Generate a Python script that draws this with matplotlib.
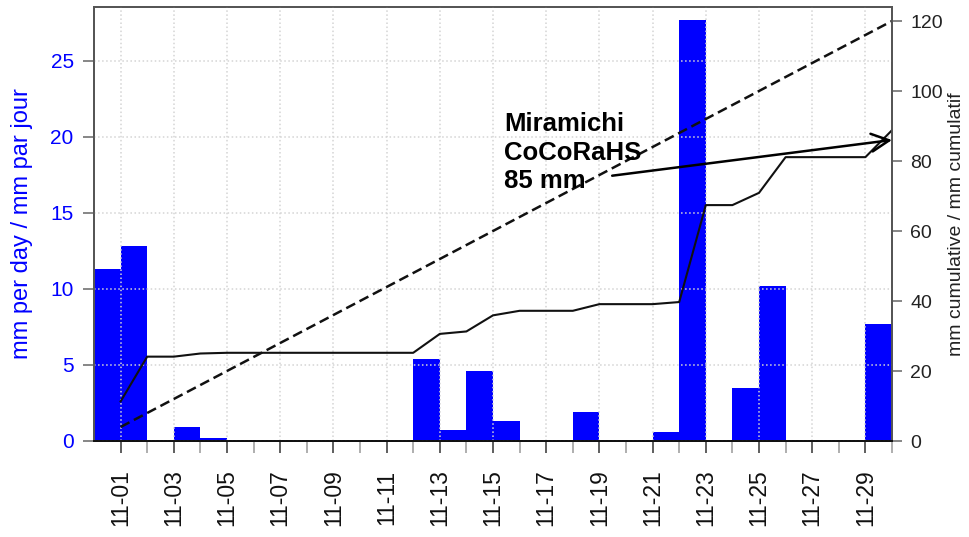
import numpy as np
import matplotlib.pyplot as plt

plt.rcParams['font.family'] = ['Liberation Sans', 'DejaVu Sans']

# daily precipitation, 1-30 November (mm)
days = np.arange(1, 31)
daily = [11.3, 12.8, 0.0, 0.9, 0.2, 0.0, 0.0, 0.0, 0.0, 0.0,
         0.0, 0.0, 5.4, 0.7, 4.6, 1.3, 0.0, 0.0, 1.9, 0.0,
         0.0, 0.6, 27.7, 0.0, 3.5, 10.2, 0.0, 0.0, 0.0, 7.7]
cumul = np.cumsum(daily)

# normal accumulation (dashed line), end points
normal_days = [1, 30]
normal_cum = [4, 120]

tick_days = list(range(1, 30, 2))
tick_labels = ['11-%02d' % d for d in tick_days]
minor_days = list(range(2, 31, 2))
left_ticks = [0, 5, 10, 15, 20, 25]
right_ticks = [0, 20, 40, 60, 80, 100, 120]

fig = plt.figure(figsize=(9.69, 5.37), dpi=100)
ax = fig.add_axes([94 / 969, 96 / 537, 798 / 969, 434 / 537])

ax.bar(days - 1, daily, width=1.0, align='edge', color='#0000ff', linewidth=0)
ax.set_xlim(0, 30)
ax.set_ylim(0, 28.55)
ax.set_yticks(left_ticks)
ax.set_xticks(tick_days)
ax.set_xticklabels(tick_labels, rotation=90)
ax.set_xticks(minor_days, minor=True)

ax.set_axisbelow(False)
ax.grid(True, axis='y', color='#d4d4d4', linestyle=':', linewidth=1.1)
ax.grid(True, axis='x', which='major', color='#d4d4d4', linestyle=':', linewidth=1.1)

ax.tick_params(axis='y', length=7.6, width=1.1, color='#666666',
               labelcolor='#0000ff', labelsize=15, pad=7)
ax.tick_params(axis='x', which='major', length=8.6, width=1.1, color='#333333',
               labelcolor='#111111', labelsize=16.5, pad=12)
ax.tick_params(axis='x', which='minor', length=8.6, width=1.1, color='#999999')

ax.set_ylabel('mm per day / mm par jour', color='#0000ff', fontsize=17)
ax.yaxis.set_label_coords(-0.077, 0.5)

ax2 = ax.twinx()
ax2.plot(days, cumul, color='#111111', linewidth=1.5)
ax2.plot(normal_days, normal_cum, color='#111111', linewidth=1.8,
         linestyle=(0, (4, 2)))
ax2.set_ylim(0, 124)
ax2.set_yticks(right_ticks)
ax2.tick_params(axis='y', length=7.2, width=1.1, color='#666666',
                labelcolor='#222222', labelsize=14, pad=6)
ax2.set_ylabel('mm cumulative / mm cumulatif', color='#222222', fontsize=14)
ax2.yaxis.set_label_coords(1.070, 0.5)

for a in (ax, ax2):
    for s in ('top', 'left', 'right'):
        a.spines[s].set_color('#555555')
        a.spines[s].set_linewidth(1.3)
    a.spines['bottom'].set_color('#111111')
    a.spines['bottom'].set_linewidth(1.4)

ax2.text(15.42, 94, 'Miramichi\nCoCoRaHS\n85 mm', fontsize=18.5,
         fontweight='bold', va='top', ha='left', linespacing=1.25)
ax2.annotate('', xy=(30, 86), xytext=(19.48, 75.8), annotation_clip=False,
             arrowprops=dict(arrowstyle='->,head_length=0.4,head_width=0.2',
                             color='black', lw=1.8, mutation_scale=32,
                             shrinkA=0, shrinkB=0))

fig.savefig('out.png', dpi=100)
